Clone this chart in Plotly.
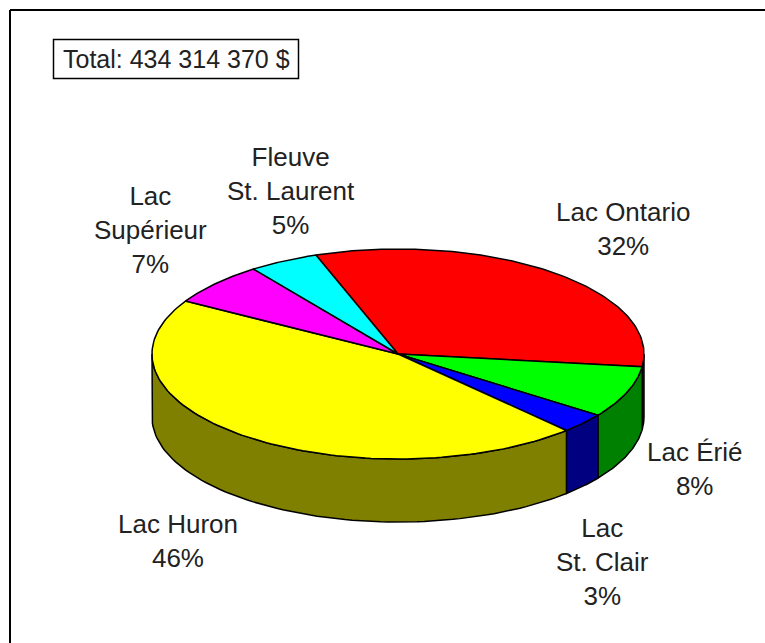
import numpy as np
import plotly.graph_objects as go

names = ["Lac Ontario", "Lac Érié", "Lac<br>St. Clair", "Lac Huron", "Lac<br>Supérieur", "Fleuve<br>St. Laurent"]
values = [32.4, 8.0, 3.1, 45.5, 6.6, 4.6]
percent_labels = [32, 8, 3, 46, 7, 5]
top_colors = ["#ff0000", "#00ff00", "#0000ff", "#ffff00", "#ff00ff", "#00ffff"]
side_colors = ["#800000", "#008000", "#000080", "#808000", "#800080", "#008080"]
total_label = "Total: 434 314 370 $"

label_x = [623, 694, 602, 178, 150, 291]
label_y = [229, 469, 562, 541, 230, 191]

CX, CY, A, B, DEPTH = 398, 354, 246, 105, 63
START = 250.5

def px(t):
    return CX + A * np.cos(np.radians(t))

def py(t, dz=0):
    return CY + B * np.sin(np.radians(t)) + dz

fig = go.Figure()
share = np.array(values) / sum(values) * 360
edges = START + np.concatenate([[0], np.cumsum(share)])
line = dict(color="black", width=1.5)

# front wall of the cake
for i in range(len(values)):
    a0, a1 = edges[i], edges[i + 1]
    for k in (0, 360):
        lo, hi = max(a0 - k, 0), min(a1 - k, 180)
        if hi > lo:
            t = np.linspace(lo, hi, 80)
            fig.add_trace(go.Scatter(
                x=np.r_[px(t), px(t[::-1]), px(t[0])],
                y=np.r_[py(t), py(t[::-1], DEPTH), py(t[0])],
                mode="lines", fill="toself", fillcolor=side_colors[i], line=line,
                hoverinfo="skip", showlegend=False))

# top face
for i in range(len(values)):
    t = np.linspace(edges[i], edges[i + 1], 120)
    fig.add_trace(go.Scatter(
        x=np.r_[CX, px(t), CX], y=np.r_[CY, py(t), CY],
        mode="lines", fill="toself", fillcolor=top_colors[i], line=line,
        hoverinfo="skip", showlegend=False))

for n, p, x, y in zip(names, percent_labels, label_x, label_y):
    fig.add_annotation(x=x, y=y, text=f"{n}<br>{p}%", showarrow=False,
                       xanchor="center", yanchor="middle",
                       font=dict(family="Liberation Sans", size=26, color="#222222"))

fig.add_annotation(x=176, y=58.5, text=total_label, showarrow=False, xanchor="center", yanchor="middle",
                   font=dict(family="Liberation Sans", size=25, color="#222222"))
fig.add_shape(type="rect", x0=53.5, y0=39.5, x1=298.5, y1=78.5, line=dict(color="black", width=1.5))
fig.add_shape(type="line", x0=10, y0=10, x1=10, y1=643, line=dict(color="black", width=2))
fig.add_shape(type="line", x0=10, y0=10, x1=765, y1=10, line=dict(color="black", width=2))

fig.update_layout(
    width=765, height=643, margin=dict(l=0, r=0, t=0, b=0),
    paper_bgcolor="white", plot_bgcolor="white", showlegend=False,
    xaxis=dict(range=[0, 765], visible=False, fixedrange=True),
    yaxis=dict(range=[643, 0], visible=False, fixedrange=True),
)
fig.write_html("out.html", config=dict(displayModeBar=False),
               post_script="document.body.style.margin='0';document.body.style.overflow='hidden';")
